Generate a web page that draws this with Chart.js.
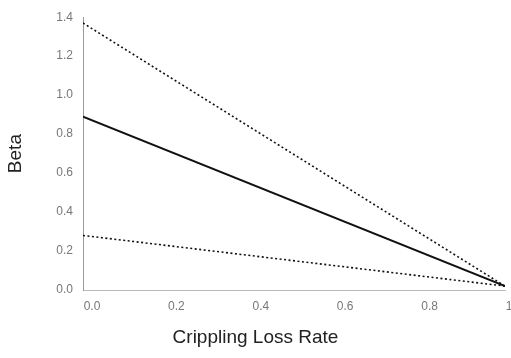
<!DOCTYPE html>
<html>
<head>
<meta charset="utf-8">
<script src="https://cdn.jsdelivr.net/npm/chart.js@4"></script>
<style>
  html, body { margin: 0; padding: 0; background: #fff; }
  #wrap { width: 511px; height: 358px; }
</style>
</head>
<body>
<div id="wrap"><canvas id="betaChart" width="511" height="358"></canvas></div>
<script>
// crippling loss rate (x) and beta for the three lines
const lossRate = [0, 1];
const upperBeta = [1.37, 0.02];
const middleBeta = [0.89, 0.02];
const lowerBeta = [0.28, 0.02];

const xTicks = [0, 0.2, 0.4, 0.6, 0.8, 1];
const xTickLabels = ['0.0', '0.2', '0.4', '0.6', '0.8', '1.0'];
const yTicks = [0, 0.2, 0.4, 0.6, 0.8, 1.0, 1.2, 1.4];
const yTickLabels = ['0.0', '0.2', '0.4', '0.6', '0.8', '1.0', '1.2', '1.4'];
const xTitle = 'Crippling Loss Rate';

const toPoints = (ys) => lossRate.map((x, i) => ({ x: x, y: ys[i] }));

// x title is centred on the whole canvas, not on the plot area
const xTitlePlugin = {
    id: 'xTitle',
    afterDraw(chart) {
        const c = chart.ctx;
        c.save();
        c.fillStyle = '#222';
        c.font = '19px "Liberation Sans"';
        c.textAlign = 'center';
        c.textBaseline = 'middle';
        c.fillText(xTitle, chart.width / 2, 338);
        c.restore();
    }
};

const ctx = document.getElementById('betaChart').getContext('2d');
new Chart(ctx, {
    type: 'line',
    data: {
        datasets: [
            {
                data: toPoints(upperBeta),
                borderColor: '#111',
                borderWidth: 1.6,
                borderDash: [2, 2.5],
                pointRadius: 0
            },
            {
                data: toPoints(middleBeta),
                borderColor: '#111',
                borderWidth: 2,
                pointRadius: 0
            },
            {
                data: toPoints(lowerBeta),
                borderColor: '#111',
                borderWidth: 1.6,
                borderDash: [2, 2.5],
                pointRadius: 0
            }
        ]
    },
    options: {
        responsive: false,
        animation: false,
        layout: { padding: { top: 16, right: 0, left: 0, bottom: 0 } },
        plugins: { legend: { display: false }, tooltip: { enabled: false } },
        scales: {
            x: {
                type: 'linear',
                min: 0,
                max: 1,
                afterBuildTicks: (s) => { s.ticks = xTicks.map(v => ({ value: v })); },
                afterFit: (s) => {
                    s.height = 68;
                    // the last label runs off the edge, as in the source
                    s.paddingRight = 6;
                    s.paddingLeft = 0;
                },
                grid: { display: false, drawTicks: false },
                border: { display: true, color: '#bbb', width: 1, dash: [10, 5, 2, 5] },
                ticks: {
                    padding: 9,
                    labelOffset: 9,
                    maxRotation: 0,
                    color: '#777',
                    font: { family: 'Liberation Sans', size: 12 },
                    callback: (v, i) => xTickLabels[i]
                },
                title: { display: false }
            },
            y: {
                min: 0,
                max: 1.4,
                afterBuildTicks: (s) => { s.ticks = yTicks.map(v => ({ value: v })); },
                afterFit: (s) => { s.width = 83; },
                grid: { display: false, drawTicks: false },
                border: { display: true, color: '#999', width: 1, dash: [1, 4] },
                ticks: {
                    padding: 10,
                    color: '#777',
                    font: { family: 'Liberation Sans', size: 12 },
                    callback: (v, i) => yTickLabels[i]
                },
                title: {
                    display: true,
                    text: 'Beta',
                    color: '#222',
                    font: { family: 'Liberation Sans', size: 19 },
                    padding: { bottom: 6 }
                }
            }
        }
    },
    plugins: [xTitlePlugin]
});
</script>
</body>
</html>
